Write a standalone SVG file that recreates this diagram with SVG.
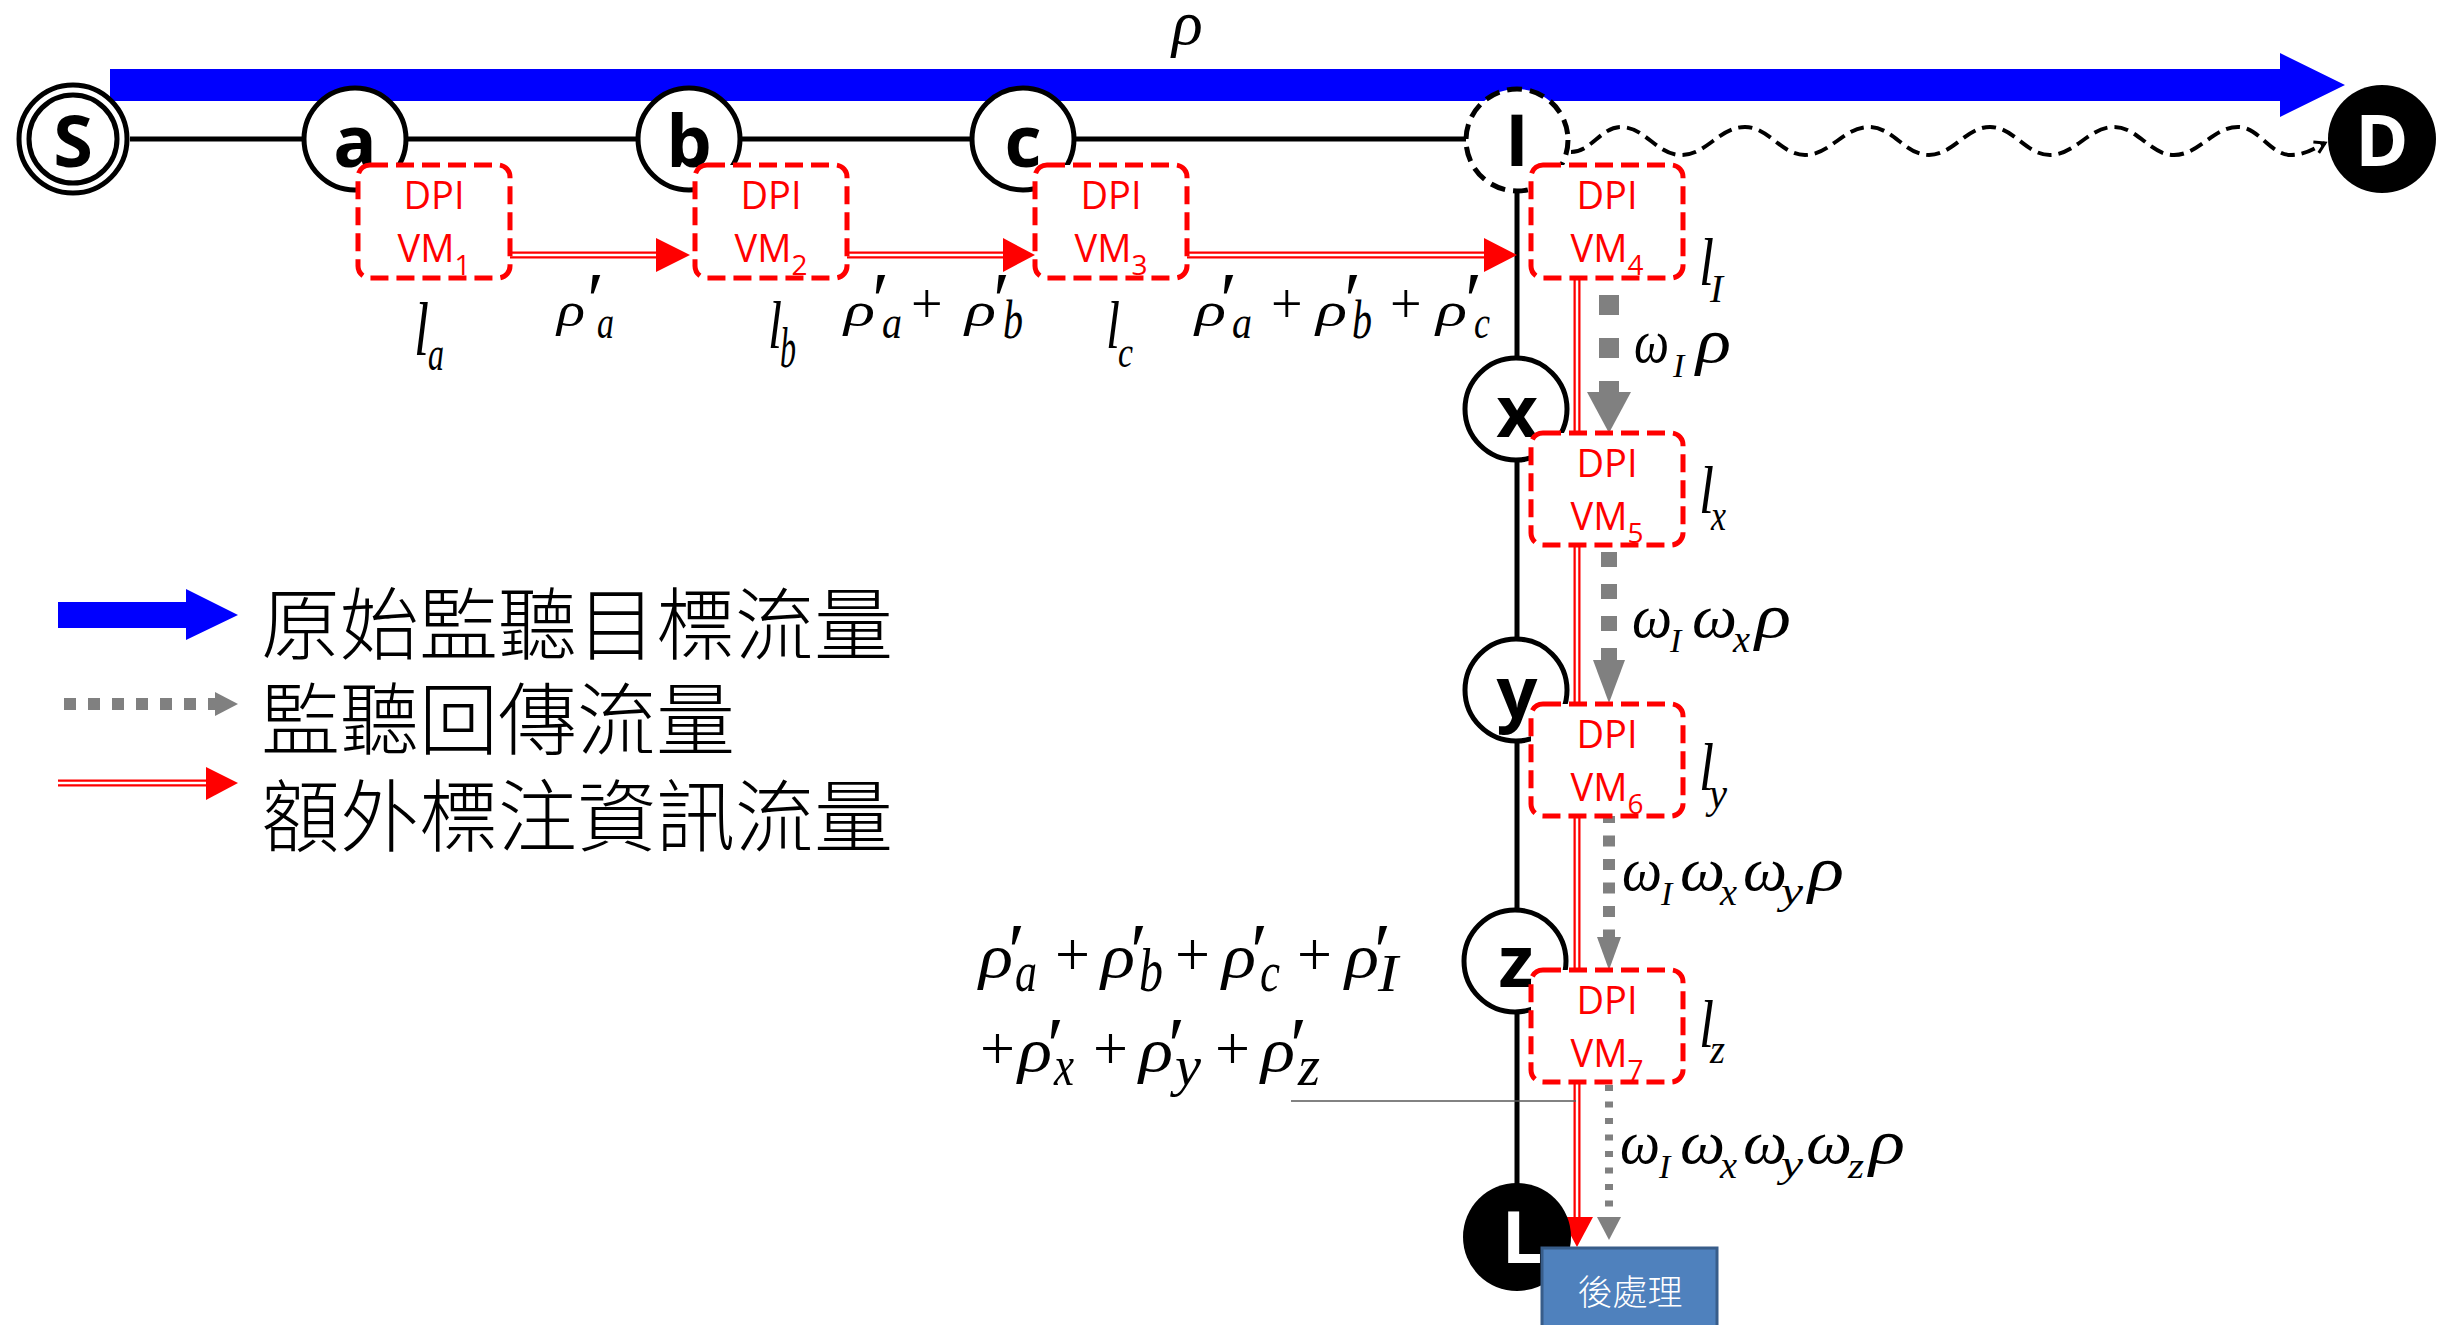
<svg xmlns="http://www.w3.org/2000/svg" width="2451" height="1325" viewBox="0 0 2451 1325">
<style>
.node{fill:#fff;stroke:#000;stroke-width:5}
.nl{font-family:"Open Sans","DejaVu Sans",sans-serif;font-weight:bold;font-size:72px;text-anchor:middle}
.vm{fill:#fff;stroke:#f00;stroke-width:5;stroke-dasharray:18 8}
.vt{font-family:"Open Sans","DejaVu Sans",sans-serif;font-size:38px;fill:#f00;text-anchor:middle}
.rl{fill:none;stroke:#f00;stroke-width:7}
.rw{fill:none;stroke:#fff;stroke-width:2.5}
.gr{fill:none;stroke:#808080}
.mi{font-family:"Liberation Serif",serif;font-style:italic;fill:#000}
.mu{font-family:"Liberation Serif",serif;fill:#000}
.pr{font-family:"Liberation Serif",serif;font-size:78px;fill:#000}
.lg{font-family:"Noto Sans CJK TC","Noto Sans CJK SC",sans-serif;font-size:79px;font-weight:300;fill:#000}
</style>
<defs>
<marker id="wv" markerWidth="16" markerHeight="16" refX="12" refY="8" orient="auto" markerUnits="userSpaceOnUse">
<path d="M2,2 L12,8 L2,14" fill="none" stroke="#000" stroke-width="3"/>
</marker>
</defs>

<g id="connectors">
<polygon points="110,69 2280,69 2280,53 2345,85 2280,117 2280,101 110,101" fill="#0000ff"/>
<line x1="130" y1="139" x2="1466" y2="139" stroke="#000" stroke-width="5"/>
<line x1="1517" y1="190" x2="1517" y2="1190" stroke="#000" stroke-width="5"/>
<path d="M1571,152 C1591,152 1601,127 1621,127 C1645,127 1657,155 1681,155 C1707,155 1719,127 1745,127 C1769,127 1781,155 1805,155 C1830,155 1844,127 1869,127 C1893,127 1905,155 1929,155 C1953,155 1966,127 1990,127 C2014,127 2026,155 2050,155 C2075,155 2089,127 2114,127 C2138,127 2150,155 2174,155 C2199,155 2213,127 2238,127 C2259,127 2270,155 2291,155 C2305,155 2315,148 2325,143" fill="none" stroke="#000" stroke-width="4" stroke-dasharray="14 7" marker-end="url(#wv)"/>
<path class="rl" d="M510,255 H658 M846,255 H1006 M1187,255 H1487"/>
<path class="rw" d="M510,255 H658 M846,255 H1006 M1187,255 H1487"/>
<polygon points="656,238 690,255 656,272" fill="#f00"/>
<polygon points="1003,238 1035,255 1003,272" fill="#f00"/>
<polygon points="1484,238 1517,255 1484,272" fill="#f00"/>
<path class="rl" d="M1577,278 V433 M1577,545 V704 M1577,816 V970 M1577,1082 V1220"/>
<path class="rw" d="M1577,278 V433 M1577,545 V704 M1577,816 V970 M1577,1082 V1220"/>
<polygon points="1561,1217 1593,1217 1577,1247" fill="#f00"/>
<line class="gr" x1="1609" y1="295" x2="1609" y2="396" stroke-width="20" stroke-dasharray="20 23"/>
<polygon points="1587,392 1631,392 1609,433" fill="#808080"/>
<line class="gr" x1="1609" y1="552" x2="1609" y2="664" stroke-width="16" stroke-dasharray="15 17"/>
<polygon points="1593,660 1625,660 1609,703" fill="#808080"/>
<line class="gr" x1="1609" y1="812" x2="1609" y2="942" stroke-width="12" stroke-dasharray="11 12.5"/>
<polygon points="1597,937 1621,937 1609,970" fill="#808080"/>
<line class="gr" x1="1609" y1="1085" x2="1609" y2="1220" stroke-width="8" stroke-dasharray="6 10.5"/>
<polygon points="1597,1217 1621,1217 1609,1240" fill="#808080"/>
<line x1="1291" y1="1101" x2="1576" y2="1101" stroke="#595959" stroke-width="1.5"/>
</g>

<g id="node-S"><circle cx="73" cy="139" r="54" class="node"/><circle cx="73" cy="139" r="44" fill="none" stroke="#000" stroke-width="5"/><text class="nl" x="73" y="167">S</text></g>
<g id="node-a"><circle cx="355" cy="139" r="51" class="node"/><text class="nl" x="355" y="167">a</text></g>
<g id="node-b"><circle cx="689" cy="139" r="51" class="node"/><text class="nl" x="689" y="167">b</text></g>
<g id="node-c"><circle cx="1023" cy="139" r="51" class="node"/><text class="nl" x="1023" y="167">c</text></g>
<g id="node-I"><circle cx="1517" cy="140" r="51" class="node" stroke-dasharray="15 8"/><text class="nl" x="1517" y="166">I</text></g>
<g id="node-D"><circle cx="2382" cy="139" r="54" fill="#000"/><text class="nl" x="2382" y="166" fill="#fff">D</text></g>
<g id="node-x"><circle cx="1516" cy="409" r="51" class="node"/><text class="nl" x="1517" y="437">x</text></g>
<g id="node-y"><circle cx="1516" cy="690" r="51" class="node"/><text class="nl" x="1517" y="718">y</text></g>
<g id="node-z"><circle cx="1515" cy="961" r="51" class="node"/><text class="nl" x="1516" y="987">z</text></g>
<g id="node-L"><circle cx="1517" cy="1237" r="54" fill="#000"/><text class="nl" x="1522" y="1263" fill="#fff">L</text></g>

<g id="vm1"><rect class="vm" x="358" y="165" width="152" height="113" rx="12"/><text class="vt" x="434" y="209">DPI</text><text class="vt" x="434" y="262">VM<tspan font-size="28" dy="13">1</tspan></text></g>
<g id="vm2"><rect class="vm" x="695" y="165" width="152" height="113" rx="12"/><text class="vt" x="771" y="209">DPI</text><text class="vt" x="771" y="262">VM<tspan font-size="28" dy="13">2</tspan></text></g>
<g id="vm3"><rect class="vm" x="1035" y="165" width="152" height="113" rx="12"/><text class="vt" x="1111" y="209">DPI</text><text class="vt" x="1111" y="262">VM<tspan font-size="28" dy="13">3</tspan></text></g>
<g id="vm4"><rect class="vm" x="1531" y="165" width="152" height="113" rx="12"/><text class="vt" x="1607" y="209">DPI</text><text class="vt" x="1607" y="262">VM<tspan font-size="28" dy="13">4</tspan></text></g>
<g id="vm5"><rect class="vm" x="1531" y="433" width="152" height="112" rx="12"/><text class="vt" x="1607" y="477">DPI</text><text class="vt" x="1607" y="530">VM<tspan font-size="28" dy="13">5</tspan></text></g>
<g id="vm6"><rect class="vm" x="1531" y="704" width="152" height="112" rx="12"/><text class="vt" x="1607" y="748">DPI</text><text class="vt" x="1607" y="801">VM<tspan font-size="28" dy="13">6</tspan></text></g>
<g id="vm7"><rect class="vm" x="1531" y="970" width="152" height="112" rx="12"/><text class="vt" x="1607" y="1014">DPI</text><text class="vt" x="1607" y="1067">VM<tspan font-size="28" dy="13">7</tspan></text></g>
<g id="post"><rect x="1542" y="1248" width="175" height="95" fill="#4f81bd" stroke="#385d8a" stroke-width="3"/><text x="1630" y="1305" font-family="Noto Sans CJK TC,Noto Sans CJK SC,sans-serif" font-size="35" font-weight="300" fill="#fff" text-anchor="middle">後處理</text></g>

<g id="labels">
<text class="mi" x="1172" y="44" font-size="64">ρ</text>
<text class="mi" x="414" y="355" font-size="76" textLength="15" lengthAdjust="spacingAndGlyphs">l</text>
<text class="mi" x="428" y="370" font-size="48" textLength="16" lengthAdjust="spacingAndGlyphs">a</text>
<text class="mi" x="768" y="348" font-size="68" textLength="14" lengthAdjust="spacingAndGlyphs">l</text>
<text class="mi" x="780" y="367" font-size="56" textLength="16" lengthAdjust="spacingAndGlyphs">b</text>
<text class="mi" x="1106" y="348" font-size="68" textLength="14" lengthAdjust="spacingAndGlyphs">l</text>
<text class="mi" x="1118" y="367" font-size="44" textLength="15" lengthAdjust="spacingAndGlyphs">c</text>
<text class="mi" x="1699" y="285" font-size="68" textLength="15" lengthAdjust="spacingAndGlyphs">l</text>
<text class="mi" x="1710" y="302" font-size="40" textLength="13" lengthAdjust="spacingAndGlyphs">I</text>
<text class="mi" x="1699" y="513" font-size="68" textLength="15" lengthAdjust="spacingAndGlyphs">l</text>
<text class="mi" x="1711" y="530" font-size="44" textLength="15" lengthAdjust="spacingAndGlyphs">x</text>
<text class="mi" x="1699" y="790" font-size="68" textLength="15" lengthAdjust="spacingAndGlyphs">l</text>
<text class="mi" x="1709" y="808" font-size="44" textLength="18" lengthAdjust="spacingAndGlyphs">y</text>
<text class="mi" x="1699" y="1047" font-size="68" textLength="15" lengthAdjust="spacingAndGlyphs">l</text>
<text class="mi" x="1710" y="1063" font-size="40" textLength="15" lengthAdjust="spacingAndGlyphs">z</text>

<text class="mi" x="557" y="326" font-size="48" textLength="28" lengthAdjust="spacingAndGlyphs">ρ</text>
<text class="pr" x="587" y="326">′</text>
<text class="mi" x="597" y="338" font-size="46" textLength="17" lengthAdjust="spacingAndGlyphs">a</text>

<text class="mi" x="844" y="326" font-size="48" textLength="31" lengthAdjust="spacingAndGlyphs">ρ</text>
<text class="pr" x="872" y="326">′</text>
<text class="mi" x="882" y="338" font-size="46" textLength="20" lengthAdjust="spacingAndGlyphs">a</text>
<text class="mu" x="911" y="323" font-size="56">+</text>
<text class="mi" x="965" y="326" font-size="48" textLength="31" lengthAdjust="spacingAndGlyphs">ρ</text>
<text class="pr" x="993" y="326">′</text>
<text class="mi" x="1003" y="338" font-size="54" textLength="20" lengthAdjust="spacingAndGlyphs">b</text>

<text class="mi" x="1195" y="326" font-size="48" textLength="31" lengthAdjust="spacingAndGlyphs">ρ</text>
<text class="pr" x="1220" y="326">′</text>
<text class="mi" x="1232" y="338" font-size="46" textLength="20" lengthAdjust="spacingAndGlyphs">a</text>
<text class="mu" x="1271" y="323" font-size="56">+</text>
<text class="mi" x="1316" y="326" font-size="48" textLength="31" lengthAdjust="spacingAndGlyphs">ρ</text>
<text class="pr" x="1344" y="326">′</text>
<text class="mi" x="1352" y="338" font-size="54" textLength="20" lengthAdjust="spacingAndGlyphs">b</text>
<text class="mu" x="1390" y="323" font-size="56">+</text>
<text class="mi" x="1436" y="326" font-size="48" textLength="31" lengthAdjust="spacingAndGlyphs">ρ</text>
<text class="pr" x="1465" y="326">′</text>
<text class="mi" x="1474" y="338" font-size="46" textLength="16" lengthAdjust="spacingAndGlyphs">c</text>

<text class="mi" x="1634" y="362" font-size="62" textLength="35" lengthAdjust="spacingAndGlyphs">ω</text>
<text class="mi" x="1673" y="377" font-size="34">I</text>
<text class="mi" x="1696" y="362" font-size="64" textLength="35" lengthAdjust="spacingAndGlyphs">ρ</text>

<text class="mi" x="1632" y="637" font-size="62" textLength="40" lengthAdjust="spacingAndGlyphs">ω</text>
<text class="mi" x="1670" y="652" font-size="34">I</text>
<text class="mi" x="1692" y="637" font-size="62" textLength="45" lengthAdjust="spacingAndGlyphs">ω</text>
<text class="mi" x="1733" y="652" font-size="38" textLength="17" lengthAdjust="spacingAndGlyphs">x</text>
<text class="mi" x="1755" y="637" font-size="64" textLength="36" lengthAdjust="spacingAndGlyphs">ρ</text>

<text class="mi" x="1622" y="890" font-size="62" textLength="40" lengthAdjust="spacingAndGlyphs">ω</text>
<text class="mi" x="1661" y="905" font-size="34">I</text>
<text class="mi" x="1680" y="890" font-size="62" textLength="45" lengthAdjust="spacingAndGlyphs">ω</text>
<text class="mi" x="1720" y="905" font-size="38" textLength="17" lengthAdjust="spacingAndGlyphs">x</text>
<text class="mi" x="1743" y="890" font-size="62" textLength="44" lengthAdjust="spacingAndGlyphs">ω</text>
<text class="mi" x="1781" y="904" font-size="38" textLength="22" lengthAdjust="spacingAndGlyphs">y</text>
<text class="mi" x="1808" y="890" font-size="64" textLength="36" lengthAdjust="spacingAndGlyphs">ρ</text>

<text class="mi" x="1620" y="1163" font-size="62" textLength="40" lengthAdjust="spacingAndGlyphs">ω</text>
<text class="mi" x="1659" y="1178" font-size="34">I</text>
<text class="mi" x="1680" y="1163" font-size="62" textLength="45" lengthAdjust="spacingAndGlyphs">ω</text>
<text class="mi" x="1720" y="1178" font-size="38" textLength="17" lengthAdjust="spacingAndGlyphs">x</text>
<text class="mi" x="1743" y="1163" font-size="62" textLength="44" lengthAdjust="spacingAndGlyphs">ω</text>
<text class="mi" x="1781" y="1177" font-size="38" textLength="22" lengthAdjust="spacingAndGlyphs">y</text>
<text class="mi" x="1806" y="1163" font-size="62" textLength="46" lengthAdjust="spacingAndGlyphs">ω</text>
<text class="mi" x="1848" y="1178" font-size="36" textLength="16" lengthAdjust="spacingAndGlyphs">z</text>
<text class="mi" x="1869" y="1163" font-size="64" textLength="36" lengthAdjust="spacingAndGlyphs">ρ</text>

<text class="mi" x="979" y="977" font-size="62" textLength="34" lengthAdjust="spacingAndGlyphs">ρ</text>
<text class="pr" x="1008" y="977">′</text>
<text class="mi" x="1015" y="991" font-size="58" textLength="22" lengthAdjust="spacingAndGlyphs">a</text>
<text class="mu" x="1055" y="975" font-size="62">+</text>
<text class="mi" x="1101" y="977" font-size="62" textLength="34" lengthAdjust="spacingAndGlyphs">ρ</text>
<text class="pr" x="1130" y="977">′</text>
<text class="mi" x="1139" y="991" font-size="62" textLength="24" lengthAdjust="spacingAndGlyphs">b</text>
<text class="mu" x="1175" y="975" font-size="62">+</text>
<text class="mi" x="1222" y="977" font-size="62" textLength="34" lengthAdjust="spacingAndGlyphs">ρ</text>
<text class="pr" x="1251" y="977">′</text>
<text class="mi" x="1260" y="991" font-size="58" textLength="20" lengthAdjust="spacingAndGlyphs">c</text>
<text class="mu" x="1297" y="975" font-size="62">+</text>
<text class="mi" x="1345" y="977" font-size="62" textLength="34" lengthAdjust="spacingAndGlyphs">ρ</text>
<text class="pr" x="1374" y="977">′</text>
<text class="mi" x="1378" y="991" font-size="52" textLength="20" lengthAdjust="spacingAndGlyphs">I</text>

<text class="mu" x="980" y="1069" font-size="62">+</text>
<text class="mi" x="1018" y="1071" font-size="62" textLength="34" lengthAdjust="spacingAndGlyphs">ρ</text>
<text class="pr" x="1047" y="1071">′</text>
<text class="mi" x="1054" y="1085" font-size="56" textLength="20" lengthAdjust="spacingAndGlyphs">x</text>
<text class="mu" x="1093" y="1069" font-size="62">+</text>
<text class="mi" x="1139" y="1071" font-size="62" textLength="34" lengthAdjust="spacingAndGlyphs">ρ</text>
<text class="pr" x="1168" y="1071">′</text>
<text class="mi" x="1175" y="1085" font-size="58" textLength="26" lengthAdjust="spacingAndGlyphs">y</text>
<text class="mu" x="1215" y="1069" font-size="62">+</text>
<text class="mi" x="1261" y="1071" font-size="62" textLength="34" lengthAdjust="spacingAndGlyphs">ρ</text>
<text class="pr" x="1290" y="1071">′</text>
<text class="mi" x="1298" y="1085" font-size="56" textLength="22" lengthAdjust="spacingAndGlyphs">z</text>
</g>

<g id="legend">
<polygon points="58,602 186,602 186,589 238,615 186,640 186,628 58,628" fill="#0000ff"/>
<line x1="64" y1="704" x2="216" y2="704" stroke="#808080" stroke-width="12" stroke-dasharray="12 12"/>
<polygon points="215,692 238,704 215,716" fill="#808080"/>
<path class="rl" d="M58,783 H208"/>
<path class="rw" d="M58,783 H208"/>
<polygon points="206,767 238,783 206,800" fill="#f00"/>
<text class="lg" x="261" y="654">原始監聽目標流量</text>
<text class="lg" x="261" y="749">監聽回傳流量</text>
<text class="lg" x="261" y="846">額外標注資訊流量</text>
</g>
</svg>
